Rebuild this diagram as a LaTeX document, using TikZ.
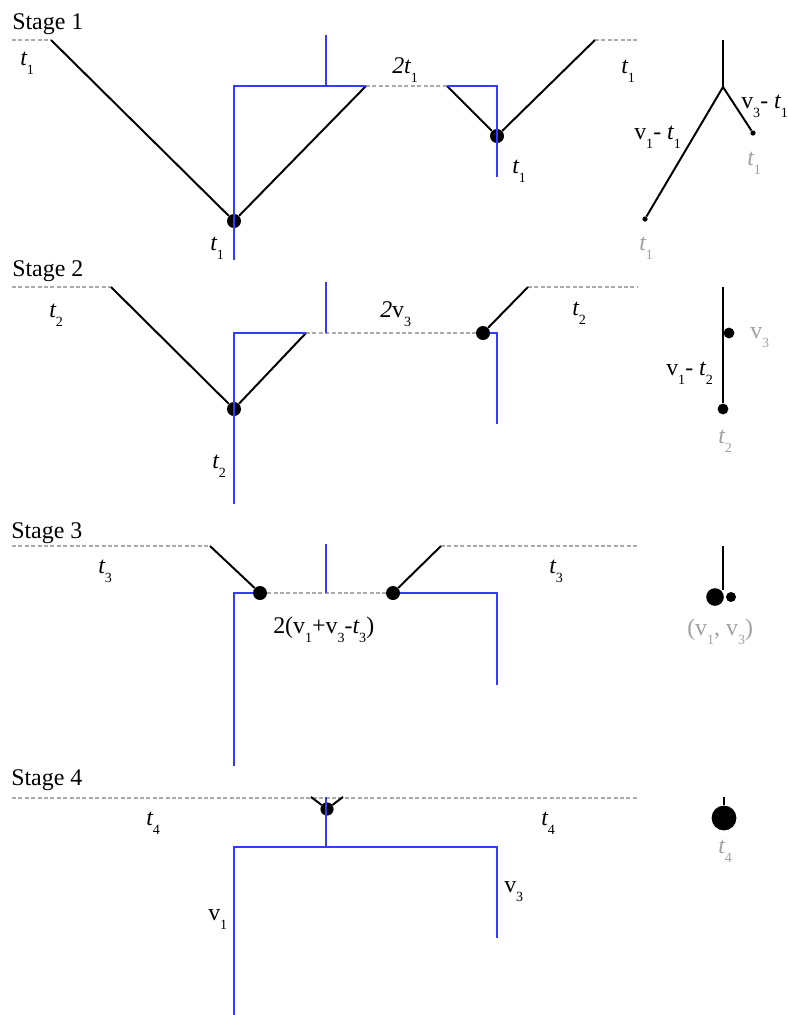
\documentclass[tikz,border=0pt]{standalone}
\usepackage{fontspec}
\setmainfont{Liberation Serif}
\usetikzlibrary{positioning}
\definecolor{cB}{RGB}{ 50, 60,255}
\definecolor{cG}{RGB}{170,170,170}
\definecolor{cT}{RGB}{160,160,160}
\newcommand{\low}[1]{\raisebox{-0.38em}{\fontsize{10}{10}\selectfont #1}}
\newcommand{\tvar}{{\itshape t}}
\tikzset{
  br/.style={draw=black, line width=1.4pt},
  bl/.style={draw=cB, line width=0.85pt},
  dl/.style={draw=cG, line width=1pt, dash pattern=on 1mm off 0.6mm},
  dot/.style={circle, fill=black, inner sep=0pt, minimum size=#1},
  dot/.default=3.5mm,
  lab/.style={anchor=base west, inner sep=0pt, font=\fontsize{17}{19}\selectfont},
  glab/.style={lab, text=cT},
}

\begin{document}
\begin{tikzpicture}[x=0.25mm, y=-0.25mm]
\useasboundingbox (0,0) rectangle (788,1015);

%% ── Stage 1 ──────────────────────────────────────────────────────────────────
\node[lab] (st1) at (12,29) {Stage 1};
\node[dot] (d1a) at (234,221) {};
\node[dot] (d1b) at (497,136) {};
\coordinate (s1l) at (12,40);
\coordinate (s1a) at (51,40);
\coordinate (s1c) at (366,86);
\coordinate (s1d) at (447,86);
\coordinate (s1e) at (595,40);
\coordinate (s1r) at (637,40);
\draw[dl] (s1l) -- (s1a);
\draw[dl] (s1c) -- (s1d);
\draw[dl] (s1e) -- (s1r);
\draw[br] (s1a) -- (d1a) -- (s1c);
\draw[br] (s1d) -- (d1b) -- (s1e);
\draw[bl] (234,260) -- (234,86) -- (s1c);
\draw[bl] (326,86) -- (326,35);
\draw[bl] (s1d) -- (497,86) -- (497,177);

% tree
\node[dot=1.3mm] (n1a) at (645,219) {};
\node[dot=1.3mm] (n1b) at (753,133) {};
\coordinate (r1) at (723,87);
\draw[br] (723,40) -- (r1);
\draw[br] (r1) -- (n1a);
\draw[br] (r1) -- (n1b);

\node[lab]  (t1a) at (20,65)   {\tvar\low{1}};
\node[lab]  (t1b) at (210,250) {\tvar\low{1}};
\node[lab]  (w1)  at (392,73)  {{\itshape 2t}\low{1}};
\node[lab]  (t1c) at (512,173) {\tvar\low{1}};
\node[lab]  (t1d) at (621,73)  {\tvar\low{1}};
\node[lab]  (e1a) at (634,139) {v\low{1}- \tvar\low{1}};
\node[lab]  (e1b) at (741,108) {v\low{3}- \tvar\low{1}};
\node[glab] (g1a) at (747,165) {\tvar\low{1}};
\node[glab] (g1b) at (639,250) {\tvar\low{1}};

%% ── Stage 2 ──────────────────────────────────────────────────────────────────
\node[lab] (st2) at (12,276) {Stage 2};
\node[dot] (d2a) at (234,409) {};
\node[dot] (d2b) at (483,333) {};
\coordinate (s2l) at (12,287);
\coordinate (s2a) at (111,287);
\coordinate (s2c) at (306,333);
\coordinate (s2e) at (528,287);
\coordinate (s2r) at (637,287);
\draw[dl] (s2l) -- (s2a);
\draw[dl] (s2c) -- (d2b);
\draw[dl] (s2e) -- (s2r);
\draw[br] (s2a) -- (d2a) -- (s2c);
\draw[br] (d2b) -- (s2e);
\draw[bl] (234,504) -- (234,333) -- (s2c);
\draw[bl] (326,333) -- (326,282);
\draw[bl] (d2b.east) -- (497,333) -- (497,424);

% tree
\node[dot=2.7mm] (n2a) at (723,409) {};
\node[dot=2.7mm] (n2b) at (729,333) {};
\draw[br] (723,287) -- (n2a);

\node[lab]  (t2a) at (49,317)  {\tvar\low{2}};
\node[lab]  (t2b) at (212,468) {\tvar\low{2}};
\node[lab]  (w2)  at (380,317) {{\itshape 2}v\low{3}};
\node[lab]  (t2c) at (572,315) {\tvar\low{2}};
\node[lab]  (e2a) at (666,375) {v\low{1}- \tvar\low{2}};
\node[glab] (g2a) at (750,338) {v\low{3}};
\node[glab] (g2b) at (718,443) {\tvar\low{2}};

%% ── Stage 3 ──────────────────────────────────────────────────────────────────
\node[lab] (st3) at (11,538) {Stage 3};
\node[dot] (d3a) at (260,593) {};
\node[dot] (d3b) at (393,593) {};
\coordinate (s3l) at (12,546);
\coordinate (s3a) at (210,546);
\coordinate (s3e) at (441,546);
\coordinate (s3r) at (637,546);
\draw[dl] (s3l) -- (s3a);
\draw[dl] (d3a) -- (d3b);
\draw[dl] (s3e) -- (s3r);
\draw[br] (s3a) -- (d3a);
\draw[br] (d3b) -- (s3e);
\draw[bl] (234,766) -- (234,593) -- (d3a.west);
\draw[bl] (326,593) -- (326,544);
\draw[bl] (d3b.east) -- (497,593) -- (497,685);

% tree
\node[dot=4.4mm] (n3a) at (715,597) {};
\node[dot=2.5mm] (n3b) at (731,597) {};
\draw[br] (723,546) -- (723,590);

\node[lab]  (t3a) at (98,573)  {\tvar\low{3}};
\node[lab]  (t3c) at (549,573) {\tvar\low{3}};
\node[lab]  (w3)  at (273,633) {2(v\low{1}+v\low{3}-\tvar\low{3})};
\node[glab] (g3a) at (687,635) {(v\low{1}, v\low{3})};

%% ── Stage 4 ──────────────────────────────────────────────────────────────────
\node[lab] (st4) at (11,785) {Stage 4};
\node[dot=3.3mm] (d4) at (327,809) {};
\draw[dl] (12,798) -- (637,798);
\draw[br] (311,797) -- (d4);
\draw[br] (343,797) -- (d4);
\draw[bl] (326,797) -- (326,847);
\draw[bl] (234,1015) -- (234,847) -- (497,847) -- (497,938);

% tree
\node[dot=6.2mm] (n4) at (724,818) {};
\draw[br] (724,797) -- (n4);

\node[lab]  (t4a) at (146,825) {\tvar\low{4}};
\node[lab]  (t4c) at (541,825) {\tvar\low{4}};
\node[lab]  (v4a) at (208,920) {v\low{1}};
\node[lab]  (v4b) at (504,892) {v\low{3}};
\node[glab] (g4)  at (718,853) {\tvar\low{4}};

\end{tikzpicture}
\end{document}
